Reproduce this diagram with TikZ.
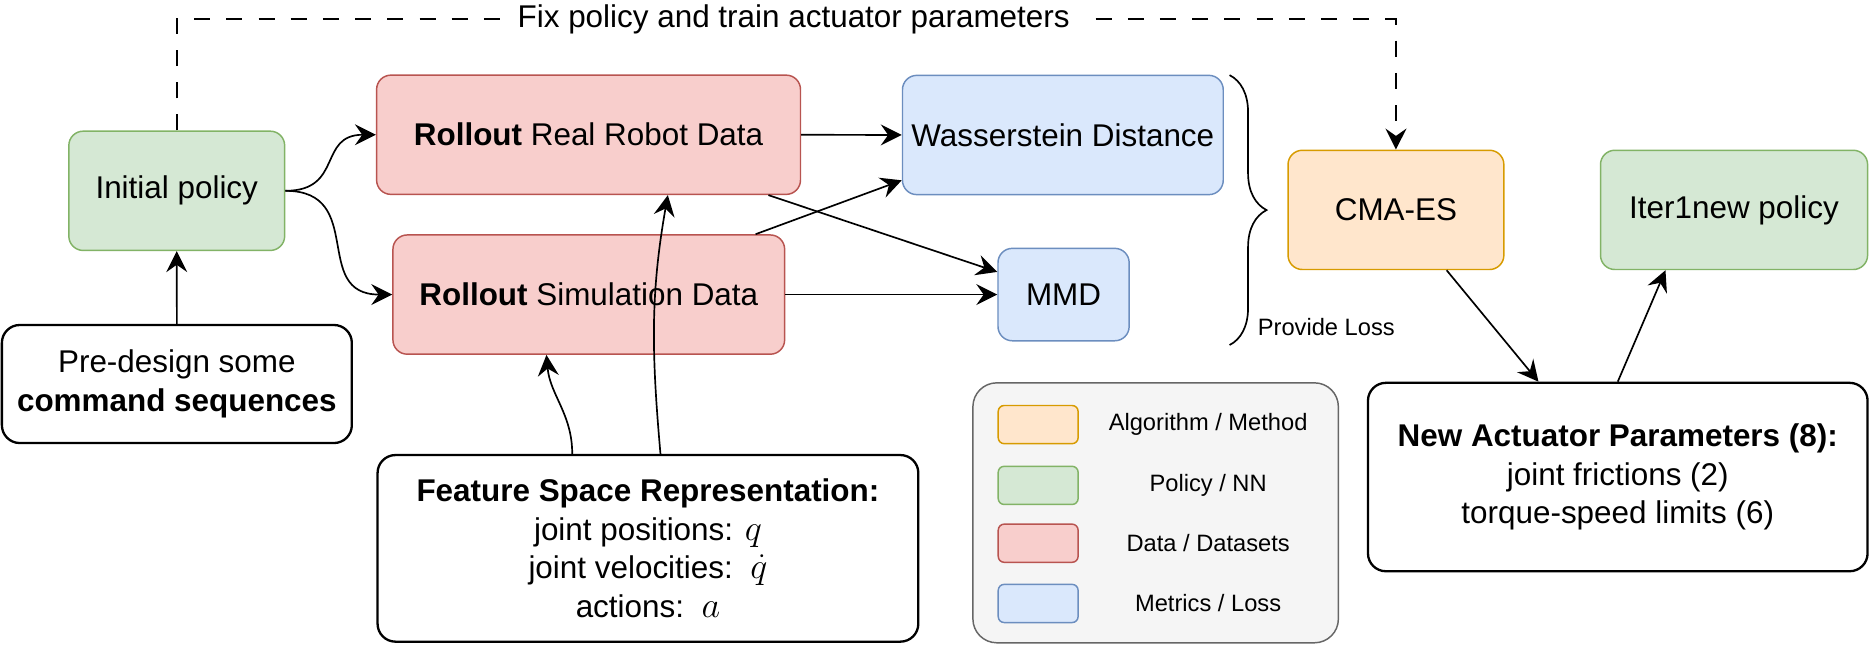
\documentclass[tikz,border=0pt]{standalone}
\usepackage{fontspec}
\setmainfont{Liberation Sans}
\usepackage{tikz}
\usetikzlibrary{arrows.meta}
\usetikzlibrary{decorations.pathreplacing}
\definecolor{polfill}{HTML}{D5E8D4}
\definecolor{poldraw}{HTML}{82B366}
\definecolor{datfill}{HTML}{F8CECC}
\definecolor{datdraw}{HTML}{B85450}
\definecolor{metfill}{HTML}{DAE8FC}
\definecolor{metdraw}{HTML}{6C8EBF}
\definecolor{algfill}{HTML}{FFE6CC}
\definecolor{algdraw}{HTML}{D79B00}
\definecolor{legfill}{HTML}{F5F5F5}
\definecolor{legdraw}{HTML}{666666}
\newcommand\mth[1]{{\fontsize{18}{18.5}\selectfont$#1$}}
\tikzstyle{box}=[rounded corners=0.24cm, line width=0.7pt, align=center, inner sep=0pt]
\tikzstyle{pol}=[box, draw=poldraw, fill=polfill]
\tikzstyle{dat}=[box, draw=datdraw, fill=datfill]
\tikzstyle{met}=[box, draw=metdraw, fill=metfill]
\tikzstyle{alg}=[box, draw=algdraw, fill=algfill]
\tikzstyle{txt}=[box, draw, fill=white, rounded corners=0.3cm, line width=1.1pt]
\tikzstyle{swatch}=[rounded corners=0.1cm, line width=0.7pt, minimum width=1.34cm, minimum height=0.64cm]
\tikzstyle{small}=[font=\fontsize{11.3}{13.5}\selectfont, inner sep=0pt]

\begin{document}
\begin{tikzpicture}[x=0.02cm,y=-0.02cm,line width=0.8pt,
  >={Stealth[length=10pt,width=10pt,inset=3.5pt]},
  font=\fontsize{15}{18.5}\selectfont]
\useasboundingbox (0,0) rectangle (1568,540);
% boxes
\node [pol, minimum width=3.62cm, minimum height=2cm] (init) at (148.2,160) {Initial policy};
\node [txt, minimum width=5.87cm, minimum height=1.98cm] (pre) at (148.3,322) {Pre-design some\\\textbf{command sequences}};
\node [dat, minimum width=7.11cm, minimum height=2cm] (real) at (493.5,113) {\textbf{Rollout} Real Robot Data};
\node [dat, minimum width=6.57cm, minimum height=2cm] (sim) at (493.7,247) {\textbf{Rollout} Simulation Data};
\node [met, minimum width=5.38cm, minimum height=2cm] (wass) at (891.2,113.2) {Wasserstein Distance};
\node [met, minimum width=2.2cm, minimum height=1.55cm] (mmd) at (891.8,247) {MMD};
\node [alg, minimum width=3.62cm, minimum height=2cm] (cma) at (1170.5,176) {CMA-ES};
\node [pol, minimum width=4.48cm, minimum height=2cm] (iter) at (1454,176) {Iter1new policy};
\node [txt, minimum width=8.38cm, minimum height=3.16cm] (newp) at (1356.5,400) {\textbf{New Actuator Parameters (8):}\\joint frictions (2)\\torque-speed limits (6)};
\node [txt, minimum width=9.07cm, minimum height=3.13cm] (feat) at (543.3,459.8) {\textbf{Feature Space Representation:}\\joint positions: \mth{q}\\joint velocities:\ \ \mth{\dot{q}}\\actions:\ \ \mth{a}};

% legend
\node [box, draw=legdraw, fill=legfill, rounded corners=0.4cm, minimum width=6.13cm, minimum height=4.36cm] (leg) at (969,430) {};
\node [swatch, draw=algdraw, fill=algfill] (la) at (870.5,356) {};
\node [swatch, draw=poldraw, fill=polfill] (lb) at (870.5,407) {};
\node [swatch, draw=datdraw, fill=datfill] (lc) at (870.5,455.5) {};
\node [swatch, draw=metdraw, fill=metfill] (ld) at (870.5,506) {};
\node [small] (ta) at (1013,356) {Algorithm / Method};
\node [small] (tb) at (1013,407) {Policy / NN};
\node [small] (tc) at (1013,455.5) {Data / Datasets};
\node [small] (td) at (1013,506) {Metrics / Loss};

% brace
\coordinate (bt) at (1031,63);
\coordinate (bb) at (1031,289.3);
\draw [decorate, decoration={brace, amplitude=0.62cm}] (bt) -- (bb);
\node [small, anchor=west] (loss) at (1054,274) {Provide Loss};

% arrows
\draw [->] (pre.north) -- (init.south);
\draw [->] (init.east) to[out=0, in=180, looseness=1.4] (real.west);
\draw [->] (init.east) to[out=0, in=180, looseness=1.4] (sim.west);
\draw [->] (real.east) -- (wass.west);
\draw [->] (sim.east) -- (mmd.west);
\draw [->] ([xshift=-0.55cm]real.south east) -- ([yshift=0.38cm]mmd.west);
\draw [->] ([xshift=-0.5cm]sim.north east) -- ([yshift=-0.76cm]wass.west);
\draw [->] ([xshift=-1.27cm]feat.north) to[out=90, in=-85] ([xshift=-0.71cm]sim.south);
\draw [->] ([xshift=0.21cm]feat.north) to[out=95, in=-100] ([xshift=1.33cm]real.south);
\draw [->] ([xshift=0.85cm]cma.south) -- ([xshift=-1.33cm]newp.north);
\draw [->] (newp.north) -- ([xshift=-1.15cm]iter.south);

% feedback loop
\coordinate (up) at (148.2,16);
\coordinate (over) at (1170.5,16);
\draw [->, dash pattern=on 0.27cm off 0.27cm] (init.north) -- (up)
  -- node [fill=white, inner xsep=0.22cm, pos=0.506] (fix) {Fix policy and train actuator parameters} (over)
  -- (cma.north);
\end{tikzpicture}
\end{document}
